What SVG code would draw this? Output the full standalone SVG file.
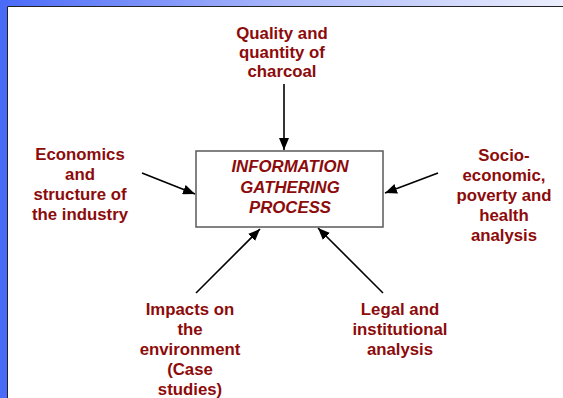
<svg xmlns="http://www.w3.org/2000/svg" width="563" height="398" viewBox="0 0 563 398">
  <defs>
    <linearGradient id="topBand" x1="0" y1="0" x2="1" y2="0">
      <stop offset="0" stop-color="#4a6af8"/>
      <stop offset="0.5" stop-color="#a9b7fa"/>
      <stop offset="1" stop-color="#eceffd"/>
    </linearGradient>
    <marker id="arrowHead" viewBox="0 0 12 10" refX="12" refY="5" markerWidth="12" markerHeight="10" markerUnits="userSpaceOnUse" orient="auto">
      <path d="M0,0 L12,5 L0,10 Z" fill="#000"/>
    </marker>
  </defs>
  <style>
    .label { font-family: "Liberation Sans", Arial, sans-serif; font-size: 16.8px; font-weight: bold; fill: #8c0b0b; text-anchor: middle; }
    .title { font-style: italic; }
    .conn { stroke: #000; stroke-width: 1.6; fill: none; marker-end: url(#arrowHead); }
    .box { fill: #fff; stroke: #5a5a5a; stroke-width: 1.5; }
  </style>

  <!-- page frame -->
  <rect x="0" y="0" width="563" height="398" fill="#fff"/>
  <rect x="0" y="0" width="563" height="6.5" fill="url(#topBand)"/>
  <rect x="0" y="0" width="7.5" height="398" fill="#4a6af8"/>
  <line x1="7.5" y1="6.5" x2="563" y2="6.5" stroke="#222" stroke-width="1"/>
  <line x1="7.5" y1="6.5" x2="7.5" y2="398" stroke="#222" stroke-width="1"/>

  <!-- connectors -->
  <g id="connectors">
    <line class="conn" x1="284" y1="84" x2="284" y2="150"/>
    <line class="conn" x1="142" y1="173" x2="195" y2="194"/>
    <line class="conn" x1="438" y1="173" x2="385" y2="193"/>
    <line class="conn" x1="196" y1="293" x2="260" y2="229"/>
    <line class="conn" x1="383" y1="293" x2="318" y2="228"/>
  </g>

  <!-- central process -->
  <g id="process">
    <rect class="box" x="196" y="151" width="187" height="76"/>
    <text class="label title" x="290" y="172">INFORMATION</text>
    <text class="label title" x="290" y="193">GATHERING</text>
    <text class="label title" x="290" y="213">PROCESS</text>
  </g>

  <g id="charcoal">
    <text class="label" x="282" y="39">Quality and</text>
    <text class="label" x="282" y="58">quantity of</text>
    <text class="label" x="282" y="77">charcoal</text>
  </g>

  <g id="economics">
    <text class="label" x="80" y="160">Economics</text>
    <text class="label" x="80" y="180">and</text>
    <text class="label" x="80" y="200">structure of</text>
    <text class="label" x="80" y="220">the industry</text>
  </g>

  <g id="socioeconomic">
    <text class="label" x="504" y="161">Socio-</text>
    <text class="label" x="504" y="181">economic,</text>
    <text class="label" x="504" y="201">poverty and</text>
    <text class="label" x="504" y="221">health</text>
    <text class="label" x="504" y="241">analysis</text>
  </g>

  <g id="environment">
    <text class="label" x="190" y="315">Impacts on</text>
    <text class="label" x="190" y="335">the</text>
    <text class="label" x="190" y="355">environment</text>
    <text class="label" x="190" y="375">(Case</text>
    <text class="label" x="190" y="395">studies)</text>
  </g>

  <g id="legal">
    <text class="label" x="400" y="315">Legal and</text>
    <text class="label" x="400" y="335">institutional</text>
    <text class="label" x="400" y="355">analysis</text>
  </g>
</svg>
